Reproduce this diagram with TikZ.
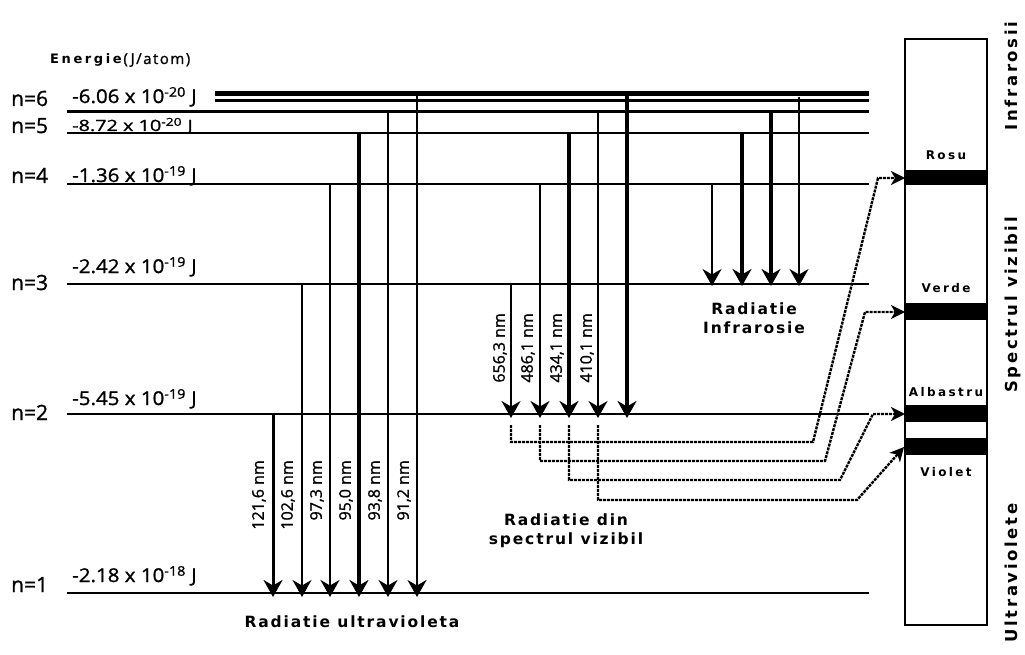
\documentclass[tikz,border=0pt]{standalone}
\usepackage{fontspec}
\setmainfont{Open Sans}
\newfontfamily\numfont[FakeBold=1.2]{Open Sans}
\newfontfamily\numfontsp[LetterSpace=10,FakeBold=1.2]{Open Sans}
\newfontfamily\capfont[LetterSpace=12]{DejaVu Sans}
\newfontfamily\boxfont[LetterSpace=20]{DejaVu Sans}
\newfontfamily\sidefont[LetterSpace=16]{DejaVu Sans}
\usetikzlibrary{arrows.meta}
\begin{document}
\begin{tikzpicture}[x=1pt,y=-1pt,
  tr/.style={-{Stealth[length=17pt,width=19pt,inset=5.5pt]}},
  conn/.style={dash pattern=on 3pt off 1pt, line width=2.4pt, -{Stealth[length=14pt,width=14pt,inset=4pt]}},
  wl/.style={rotate=90, anchor=east, inner sep=0pt, font=\numfont\fontsize{16}{16}\selectfont},
  en/.style={anchor=base west, inner sep=0pt, font=\numfont\fontsize{19}{19}\selectfont},
  nl/.style={anchor=base west, inner sep=0pt, font=\numfont\fontsize{21}{21}\selectfont},
  capt/.style={align=center, inner sep=0pt, font=\capfont\bfseries\fontsize{15.5}{19}\selectfont},
  band/.style={fill=black, draw=none},
  bl/.style={inner sep=0pt, font=\boxfont\bfseries\fontsize{12}{12}\selectfont},
  side/.style={rotate=90, anchor=base, inner sep=0pt, font=\sidefont\bfseries\fontsize{16.5}{16.5}\selectfont}]
\useasboundingbox (0,0) rectangle (1025,655);

% header
\node[anchor=base west, inner sep=0pt] (hdr) at (50,64)
  {{\boxfont\bfseries\fontsize{13}{13}\selectfont Energie}\,{\numfontsp\fontsize{15}{15}\selectfont(J/atom)}};

% energy levels
\foreach \nm/\y/\w in {n1/593/2.8, n2/414/1.8, n3/284/1.8, n4/184/2.2, n5/133/2.6, n6/111.5/2.6} {
  \coordinate (\nm a) at (67,\y);
  \coordinate (\nm b) at (869,\y);
  \draw[line width=\w pt] (\nm a) -- (\nm b);
}
\coordinate (inf1a) at (215,93.5); \coordinate (inf1b) at (869,93.5);
\coordinate (inf2a) at (215,100.5); \coordinate (inf2b) at (869,100.5);
\draw[line width=5pt] (inf1a) -- (inf1b);
\draw[line width=2.6pt] (inf2a) -- (inf2b);

% level labels
\node[nl] (ln6) at (11,106) {n=6};
\node[nl] (ln5) at (11,133) {n=5};
\node[nl] (ln4) at (11,183) {n=4};
\node[nl] (ln3) at (11,290) {n=3};
\node[nl] (ln2) at (11,420) {n=2};
\node[nl] (ln1) at (11,592) {n=1};

\node[en] (e6) at (72,103) {\scalebox{1.08}[1]{-6.06 x 10\textsuperscript{-20} J}};
\node[en, font=\numfont\fontsize{15.5}{15.5}\selectfont] (e5) at (72,131) {\scalebox{1.28}[1]{-8.72 x 10\textsuperscript{-20} J}};
\node[en] (e4) at (72,182) {\scalebox{1.08}[1]{-1.36 x 10\textsuperscript{-19} J}};
\node[en] (e3) at (72,273) {\scalebox{1.08}[1]{-2.42 x 10\textsuperscript{-19} J}};
\node[en] (e2) at (72,405) {\scalebox{1.08}[1]{-5.45 x 10\textsuperscript{-19} J}};
\node[en] (e1) at (72,582) {\scalebox{1.08}[1]{-2.18 x 10\textsuperscript{-18} J}};

% transitions
\foreach \x/\a/\b/\w [count=\i] in {
  273/414/597/3.0, 302/284/597/1.6, 330/184/597/2.5, 359/133/597/3.2, 388/112/597/1.6, 417/94/597/2.5,
  511/284/418/1.6, 540/184/418/2.5, 569/133/418/3.2, 598/112/418/1.6, 627/94/418/3.2,
  712/184/286/1.6, 742/133/286/3.2, 771/112/286/3.2, 799/97/286/1.6} {
  \coordinate (t\i s) at (\x,\a);
  \coordinate (t\i e) at (\x,\b);
  \draw[tr, line width=\w pt] (t\i s) -- (t\i e);
}

% wavelength labels
\node[wl] (w1) at (259,460) {121,6 nm};
\node[wl] (w2) at (288,460) {102,6 nm};
\node[wl] (w3) at (317,460) {97,3 nm};
\node[wl] (w4) at (346,460) {95,0 nm};
\node[wl] (w5) at (375,460) {93,8 nm};
\node[wl] (w6) at (404,460) {91,2 nm};
\node[wl] (w7) at (500,313) {656,3 nm};
\node[wl] (w8) at (528,313) {486,1 nm};
\node[wl] (w9) at (557,313) {434,1 nm};
\node[wl] (w10) at (587,313) {410,1 nm};

% captions
\node[capt] (cuv) at (352,622) {Radiatie ultravioleta};
\node[capt] (cir) at (754,318) {Radiatie\\Infrarosie};
\node[capt] (cvis) at (566,531) {Radiatie din\\spectrul vizibil};

% spectrum box
\coordinate (bxa) at (905,39); \coordinate (bxb) at (987,625);
\draw[line width=2.2pt] (bxa) rectangle (bxb);
\fill[band] (905,170) rectangle (987,185);
\fill[band] (905,303) rectangle (987,320);
\fill[band] (905,405) rectangle (987,422);
\fill[band] (905,438) rectangle (987,455);
\node[bl] (rosu) at (946,155) {Rosu};
\node[bl] (verde) at (946,288) {Verde};
\node[bl] (alb) at (946,392) {Albastru};
\node[bl] (viol) at (946,472) {Violet};

\node[side] (sinf) at (1017,76) {Infrarosii};
\node[side] (svis) at (1017,305) {Spectrul vizibil};
\node[side] (suv) at (1017,573) {Ultraviolete};

% connectors to spectrum
\coordinate (c1s) at (511,425); \coordinate (c1t) at (905,178);
\coordinate (c2s) at (540,425); \coordinate (c2t) at (905,312);
\coordinate (c3s) at (569,425); \coordinate (c3t) at (905,414);
\coordinate (c4s) at (598,425); \coordinate (c4t) at (904,447);
\draw[conn] (c1s) -- (511,442) -- (813,442) -- (878,178) -- (c1t);
\draw[conn] (c2s) -- (540,461) -- (825,461) -- (865,312) -- (c2t);
\draw[conn] (c3s) -- (569,480) -- (840,480) -- (873,414) -- (c3t);
\draw[conn] (c4s) -- (598,500) -- (857,500) -- (c4t);
\end{tikzpicture}
\end{document}
